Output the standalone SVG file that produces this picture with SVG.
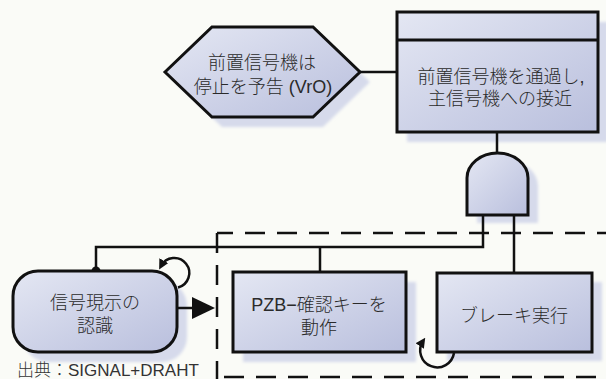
<svg xmlns="http://www.w3.org/2000/svg" width="606" height="379" viewBox="0 0 606 379">
  <defs>
    <linearGradient id="fillGrad" x1="0" y1="0" x2="1" y2="1">
      <stop offset="0" stop-color="#e4e7f3"/>
      <stop offset="1" stop-color="#b9bfdd"/>
    </linearGradient>
    <filter id="soft" x="-10%" y="-10%" width="120%" height="120%">
      <feGaussianBlur stdDeviation="1.5"/>
    </filter>
    <marker id="loopHead" viewBox="0 0 10 10" refX="6" refY="5" markerWidth="10" markerHeight="10" markerUnits="userSpaceOnUse" orient="auto">
      <path d="M0,0 L10,5 L0,10 Z" fill="#111"/>
    </marker>
  </defs>
  <style>
    .node { fill: url(#fillGrad); stroke: #111; stroke-width: 3; }
    .shadow { fill: #d6daeb; filter: url(#soft); }
    .line { fill: none; stroke: #111; stroke-width: 2.5; }
    .dash { fill: none; stroke: #111; stroke-width: 2.5; stroke-dasharray: 20 12; }
    .label { font-family: "Liberation Sans", "Noto Sans CJK JP", sans-serif; font-size: 18px; font-weight: 300; fill: #2a2a2a; text-anchor: middle; }
    .caption { font-family: "Liberation Sans", "Noto Sans CJK JP", sans-serif; font-size: 17px; font-weight: 300; fill: #333; }
  </style>
  <rect width="606" height="379" fill="#fafbf7"/>

  <!-- shadows -->
  <g id="shadows">
    <polygon class="shadow" points="175,82 222,37 323,37 370,82 323,127 222,127"/>
    <rect class="shadow" x="407" y="22" width="201" height="120"/>
    <path class="shadow" d="M477,223 V186 A30.5,25 0 0 1 538,186 V223 Z"/>
    <rect class="shadow" x="23" y="281" width="164" height="81" rx="25"/>
    <rect class="shadow" x="243" y="282" width="173" height="80"/>
    <rect class="shadow" x="447" y="282" width="155" height="79"/>
  </g>

  <!-- dashed boundary -->
  <g id="boundary">
    <path class="dash" d="M217,233 H606" stroke-dashoffset="4"/>
    <path class="dash" d="M217,233 V379"/>
    <path class="dash" d="M224,377 H606"/>
  </g>

  <!-- connectors -->
  <g id="connectors">
    <path class="line" d="M360,72 H397"/>
    <path class="line" d="M497,132 V153"/>
    <path class="line" d="M483,215 V247 H96 V271"/>
    <path class="line" d="M320,247 V272"/>
    <path class="line" d="M514,215 V273"/>
    <circle cx="96" cy="271" r="4.5" fill="#111"/>
    <path class="line" d="M177,308 H194"/>
    <polygon points="192,297 215,308 192,319" fill="#111"/>
    <path class="line" d="M178,287.5 A15,15 0 1 0 161,266" marker-end="url(#loopHead)"/>
    <path class="line" d="M454,353 A17,17 0 1 1 423,341" marker-end="url(#loopHead)"/>
  </g>

  <g id="node-vorsignal">
    <polygon class="node" points="165,72 212,27 313,27 360,72 313,117 212,117"/>
    <text class="label" x="262" y="69">前置信号機は</text>
    <text class="label" x="263" y="93">停止を予告 (VrO)</text>
  </g>

  <g id="node-approach">
    <rect class="node" x="397" y="12" width="201" height="120"/>
    <line x1="397" y1="40" x2="598" y2="40" stroke="#111" stroke-width="3"/>
    <text class="label" x="501" y="83">前置信号機を通過し,</text>
    <text class="label" x="500" y="105">主信号機への接近</text>
  </g>

  <g id="node-and">
    <path class="node" d="M467,215 V178 A30.5,25 0 0 1 528,178 V215 Z"/>
  </g>

  <g id="node-recognition">
    <rect class="node" x="13" y="271" width="164" height="81" rx="25"/>
    <text class="label" x="95" y="309">信号現示の</text>
    <text class="label" x="95" y="332">認識</text>
  </g>

  <g id="node-pzb">
    <rect class="node" x="233" y="272" width="173" height="80"/>
    <text class="label" x="319" y="311">PZB−確認キーを</text>
    <text class="label" x="319" y="334">動作</text>
  </g>

  <g id="node-brake">
    <rect class="node" x="437" y="273" width="155" height="79"/>
    <text class="label" x="514" y="322">ブレーキ実行</text>
  </g>

  <text class="caption" x="17" y="376">出典：SIGNAL+DRAHT</text>
</svg>
